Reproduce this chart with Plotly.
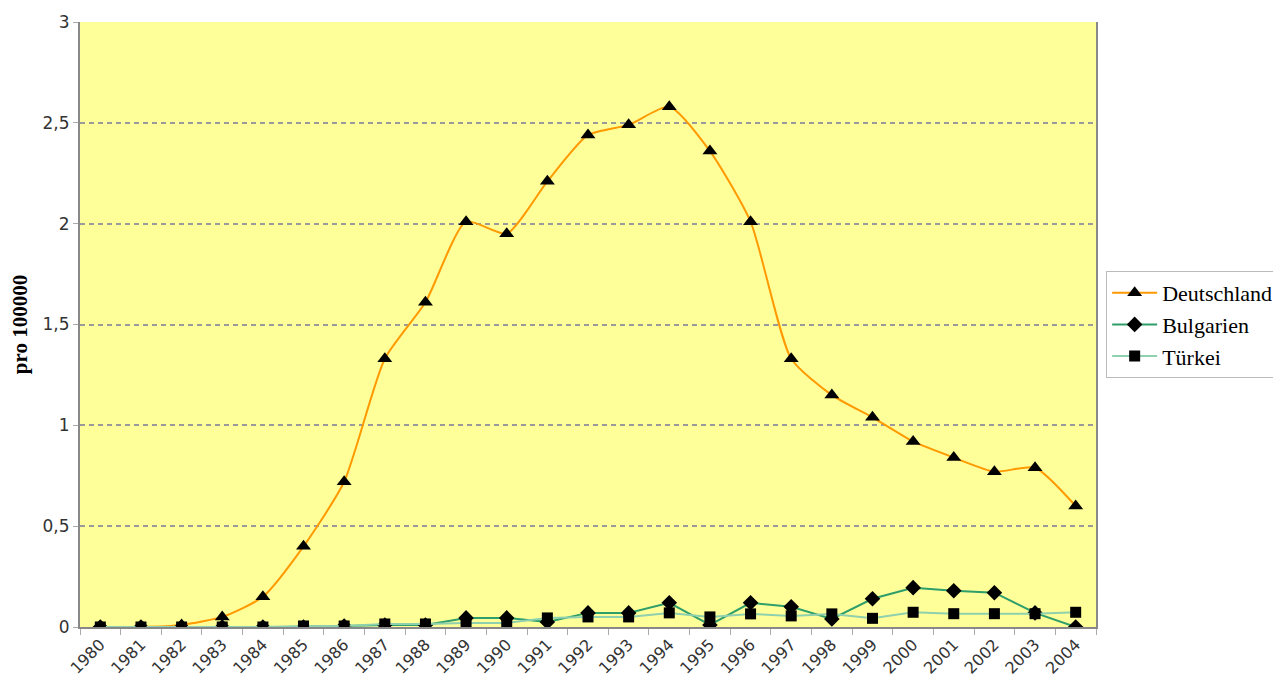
import plotly.graph_objects as go

years = list(range(1980, 2005))
deutschland = [0, 0, 0.01, 0.05, 0.15, 0.40, 0.72, 1.33, 1.61, 2.01, 1.95, 2.21, 2.44, 2.49, 2.58,
               2.36, 2.01, 1.33, 1.15, 1.04, 0.92, 0.84, 0.77, 0.79, 0.60]
bulgarien = [0, 0, 0, 0, 0, 0, 0.005, 0.01, 0.01, 0.045, 0.045, 0.025, 0.07, 0.07, 0.12,
             0.01, 0.12, 0.10, 0.04, 0.14, 0.195, 0.18, 0.17, 0.07, 0.0]
tuerkei = [0, 0, 0, 0, 0, 0.005, 0.005, 0.015, 0.015, 0.02, 0.02, 0.045, 0.05, 0.05, 0.07,
           0.05, 0.065, 0.055, 0.065, 0.043, 0.073, 0.066, 0.066, 0.066, 0.073]
y_ticks = [0, 0.5, 1, 1.5, 2, 2.5, 3]
y_labels = ["0", "0,5", "1", "1,5", "2", "2,5", "3"]

fig = go.Figure()
fig.add_trace(go.Scatter(x=years, y=deutschland, name="Deutschland", mode="lines+markers",
                         line=dict(color="#FF9900", width=2, shape="spline", smoothing=0.6),
                         marker=dict(symbol="triangle-up", size=13, color="black")))
fig.add_trace(go.Scatter(x=years, y=bulgarien, name="Bulgarien", mode="lines+markers",
                         line=dict(color="#2E9E6A", width=2),
                         marker=dict(symbol="diamond", size=12, color="black")))
fig.add_trace(go.Scatter(x=years, y=tuerkei, name="Türkei", mode="lines+markers",
                         line=dict(color="#8FD0AE", width=2),
                         marker=dict(symbol="square", size=11, color="black")))

# body has an 8px margin in the written page; compensate
fig.update_layout(
    width=1281, height=670,
    margin=dict(l=72, r=192, t=14, b=51),
    paper_bgcolor="white", plot_bgcolor="#FFFF99",
    font=dict(family="DejaVu Sans", color="#333333", size=15),
    legend=dict(x=1.009, y=0.5, xanchor="left", yanchor="middle",
                bgcolor="white", bordercolor="#BBBBBB", borderwidth=1,
                font=dict(family="Liberation Serif", size=22, color="black"),
                itemwidth=45, tracegroupgap=0),
    xaxis=dict(range=[1979.5, 2004.5], tickmode="array", tickvals=years,
               ticktext=[str(y) for y in years], tickangle=-45, ticks="",
               showgrid=False, showline=True, linecolor="#888888", linewidth=2,
               tickfont=dict(size=16, color="#333333"), automargin=False,
               minor=dict(ticks="outside", tick0=1979.5, dtick=1, ticklen=6,
                          tickcolor="#AAAAAA", showgrid=False)),
    yaxis=dict(range=[0, 3], tickmode="array", tickvals=y_ticks, ticktext=y_labels,
               showgrid=True, gridcolor="#9A9A9A", griddash="5px,4px", gridwidth=2,
               showline=True, linecolor="#888888", linewidth=2, mirror=True,
               ticks="outside", ticklen=5, tickcolor="#AAAAAA", zeroline=False,
               tickfont=dict(size=17, color="#333333"), automargin=False,
               title=dict(text="<b>pro 100000</b>", font=dict(family="Liberation Serif", size=21, color="black"),
                          standoff=16)),
)
fig.write_html("out.html")
